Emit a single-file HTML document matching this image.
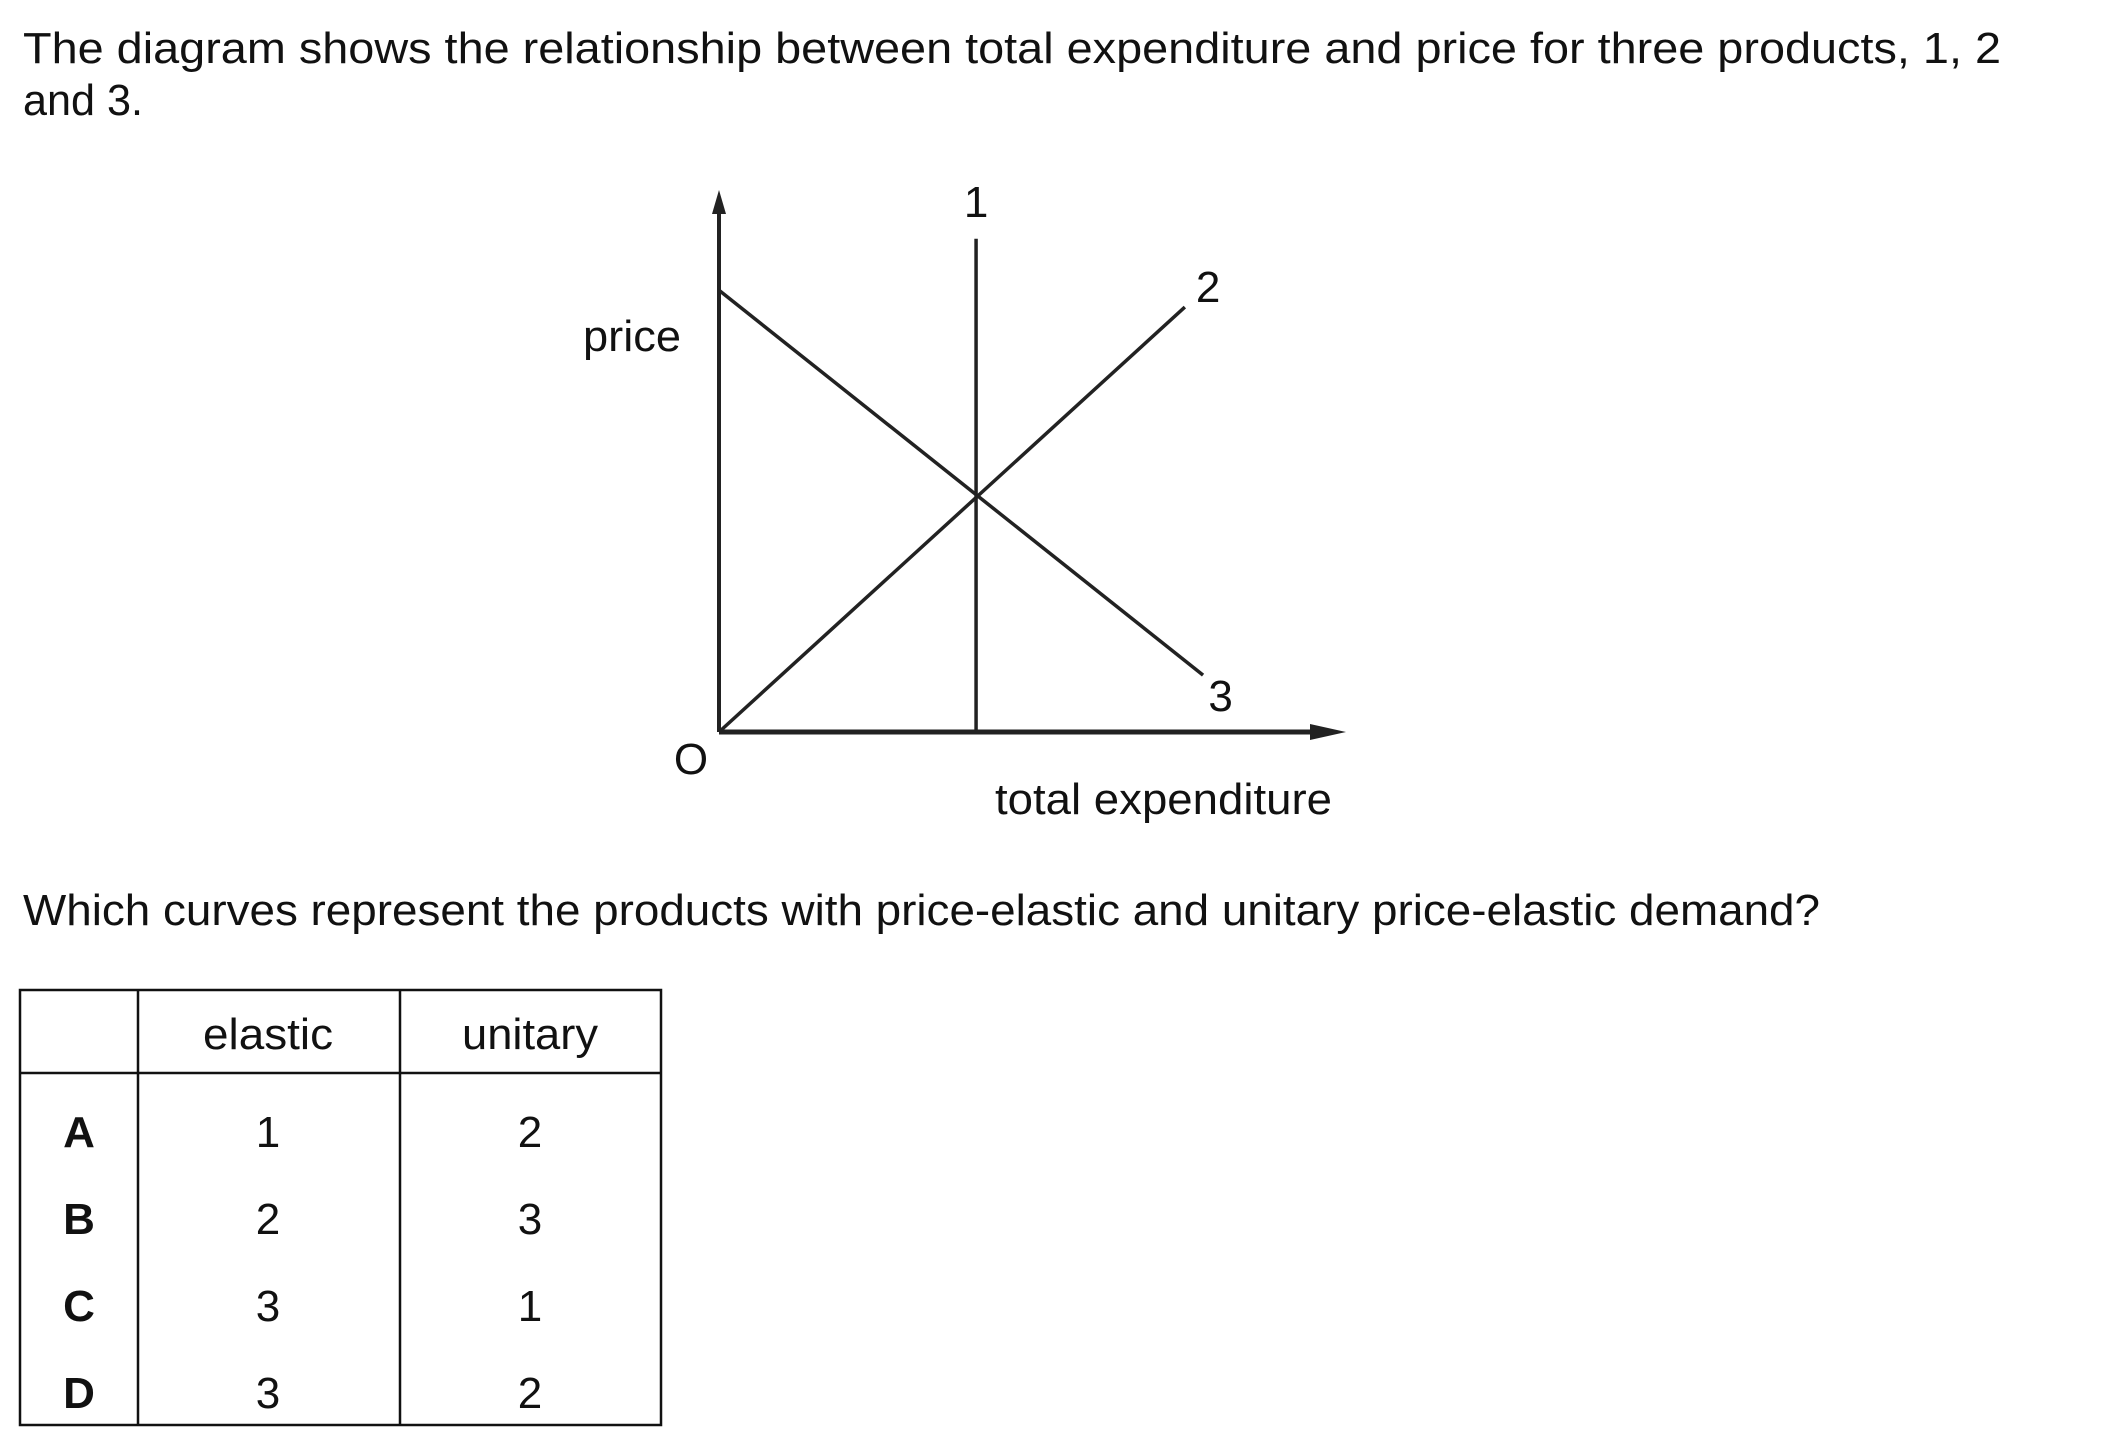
<!DOCTYPE html>
<html><head><meta charset="utf-8"><style>
html,body{margin:0;padding:0;background:#fff;}
svg{display:block;}
text{font-family:"Liberation Sans",Arial,sans-serif;fill:#111;}
</style></head><body>
<svg id="page" width="2101" height="1447" viewBox="0 0 2101 1447">
<text x="23" y="63" font-size="44" textLength="1978" lengthAdjust="spacingAndGlyphs">The diagram shows the relationship between total expenditure and price for three products, 1, 2</text>
<text x="23" y="115" font-size="44" textLength="120" lengthAdjust="spacingAndGlyphs">and 3.</text>
<g id="chart"></g>
<text x="23" y="925" font-size="44" textLength="1797" lengthAdjust="spacingAndGlyphs">Which curves represent the products with price-elastic and unitary price-elastic demand?</text>
<g stroke="#111" stroke-width="2.5" fill="none">
<rect x="20" y="990" width="641" height="435"/>
<line x1="138" y1="990" x2="138" y2="1425"/>
<line x1="400" y1="990" x2="400" y2="1425"/>
<line x1="20" y1="1073" x2="661" y2="1073"/>
</g>
<g font-size="44" text-anchor="middle">
<text x="268" y="1049" textLength="130" lengthAdjust="spacingAndGlyphs">elastic</text>
<text x="530" y="1049" textLength="136" lengthAdjust="spacingAndGlyphs">unitary</text>
<text x="79" y="1147" font-weight="bold">A</text>
<text x="268" y="1147">1</text>
<text x="530" y="1147">2</text>
<text x="79" y="1234" font-weight="bold">B</text>
<text x="268" y="1234">2</text>
<text x="530" y="1234">3</text>
<text x="79" y="1321" font-weight="bold">C</text>
<text x="268" y="1321">3</text>
<text x="530" y="1321">1</text>
<text x="79" y="1408" font-weight="bold">D</text>
<text x="268" y="1408">3</text>
<text x="530" y="1408">2</text>
</g>
</svg>
<script>
const lineNames = ["1", "2", "3"];
const lineStart = [[4.1, 0], [0, 0], [0, 8.15]];
const lineEnd = [[4.1, 9.1], [7.43, 7.84], [7.72, 1.05]];
const labelPos = [[4.1, 9.5], [7.8, 7.93], [8.0, 0.39]];

const NS = "http://www.w3.org/2000/svg";
const g = document.getElementById("chart");
const X0 = 719, X1 = 1346, Y0 = 732, Y1 = 190;
function xs(v){ return X0 + v / 10 * (X1 - X0); }
function ys(v){ return Y0 - v / 10 * (Y0 - Y1); }
function mk(tag, attrs){ const e = document.createElementNS(NS, tag); for (const k in attrs) e.setAttribute(k, attrs[k]); g.appendChild(e); return e; }

let e = mk("line", {x1: xs(0), y1: ys(0), x2: xs(0), y2: Y1 + 22, stroke: "#222", "stroke-width": 4});


e = mk("polygon", {points: `${X0-7},${Y1+24} ${X0+7},${Y1+24} ${X0},${Y1}`, fill: "#222"});


e = mk("line", {x1: xs(0), y1: ys(0), x2: X1 - 34, y2: ys(0), stroke: "#222", "stroke-width": 5});


e = mk("polygon", {points: `${X1-36},${Y0-8} ${X1-36},${Y0+8} ${X1},${Y0}`, fill: "#222"});



for (let i = 0; i < lineNames.length; i++) {
  e = mk("line", {x1: xs(lineStart[i][0]), y1: ys(lineStart[i][1]), x2: xs(lineEnd[i][0]), y2: ys(lineEnd[i][1]), stroke: "#222", "stroke-width": 3.5});
  
  
  e = mk("text", {x: xs(labelPos[i][0]), y: ys(labelPos[i][1]), "font-size": 44, "text-anchor": "middle"});
  e.textContent = lineNames[i];
  
  
}

e = mk("text", {x: 583, y: 351, "font-size": 44, textLength: 98, lengthAdjust: "spacingAndGlyphs"});
e.textContent = "price";


e = mk("text", {x: 995, y: 814, "font-size": 44, textLength: 337, lengthAdjust: "spacingAndGlyphs"});
e.textContent = "total expenditure";


e = mk("text", {x: 691, y: 774, "font-size": 44, "text-anchor": "middle"});
e.textContent = "O";


</script>
</body></html>
